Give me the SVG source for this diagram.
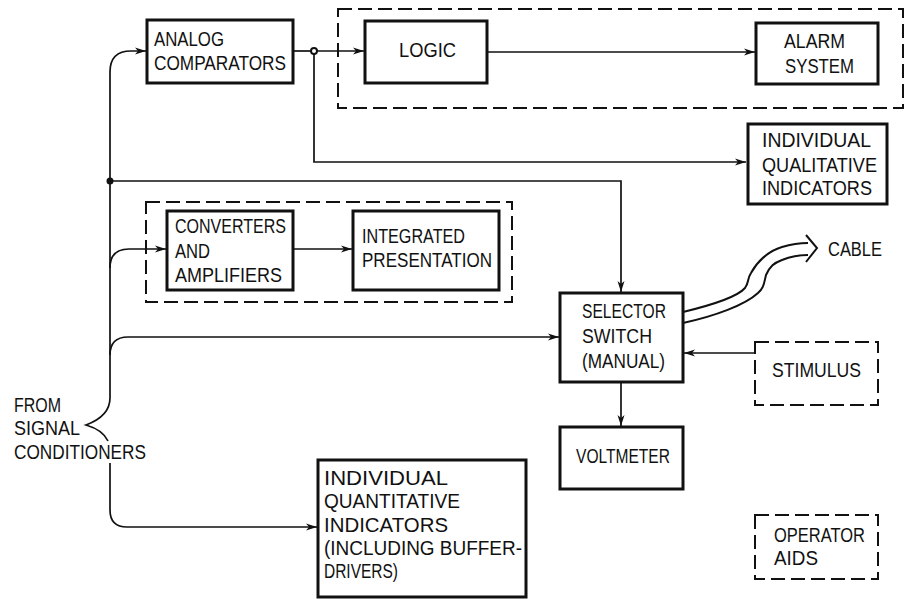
<svg xmlns="http://www.w3.org/2000/svg" width="907" height="599" viewBox="0 0 907 599">
<defs>
<style>
.box{fill:#fff;stroke:#111;stroke-width:3}
.dash{fill:none;stroke:#111;stroke-width:2;stroke-dasharray:14,6}
.ln{fill:none;stroke:#111;stroke-width:1.7}
text{font-family:"Liberation Sans",Arial,sans-serif;font-size:20px;fill:#111}
</style>
<marker id="ah" markerUnits="userSpaceOnUse" markerWidth="12" markerHeight="8" refX="11" refY="4" orient="auto">
<path d="M0,0.5 L11,4 L0,7.5 L3,4 Z" fill="#111"/>
</marker>
</defs>
<rect width="907" height="599" fill="#fff"/>

<g id="group-logic-alarm"><rect class="dash" x="338" y="9" width="565" height="99"/></g>
<g id="group-converters"><rect class="dash" x="146" y="202" width="366" height="100"/></g>

<g id="connectors">
<path class="ln" d="M110,398 V72 Q110,51 131,51 H146" marker-end="url(#ah)"/>
<path class="ln" d="M110,398 Q110,416 86,425 Q103,430 108,441"/>
<path class="ln" d="M110,463 V510 Q110,527 127,527 H317" marker-end="url(#ah)"/>
<circle cx="110" cy="181" r="3.5" fill="#111"/>
<path class="ln" d="M110,181 H621 V292" marker-end="url(#ah)"/>
<path class="ln" d="M110,268 Q110,249 129,249 H166" marker-end="url(#ah)"/>
<path class="ln" d="M110,355 Q110,337 128,337 H559" marker-end="url(#ah)"/>
<path class="ln" d="M293,51 H311"/>
<circle cx="314" cy="51" r="3" fill="#fff" stroke="#111" stroke-width="2"/>
<path class="ln" d="M317,51 H364" marker-end="url(#ah)"/>
<path class="ln" d="M314,54 V162 H746" marker-end="url(#ah)"/>
<path class="ln" d="M487,52 H755" marker-end="url(#ah)"/>
<path class="ln" d="M293,249 H352" marker-end="url(#ah)"/>
<path class="ln" d="M621,382 V426" marker-end="url(#ah)"/>
<path class="ln" d="M755,353 H684" marker-end="url(#ah)"/>
<g id="cable-arrow" fill="none" stroke="#111" stroke-width="2">
<path d="M683,312 C712,305 738,296 745,288 C749,283 747,279 751,273 C757,262 768,251 782,247 C792,244 800,243 808,243"/>
<path d="M683,323 C715,316 745,305 758,293 C764,288 764,283 766,275 C770,266 774,263 782,260 C792,256 800,255 808,255"/>
<path d="M806,235 L817,248 L806,262"/>
</g>
</g>

<g id="analog-comparators">
<rect class="box" x="147" y="20" width="146" height="63"/>
<text x="154" y="46" textLength="70" lengthAdjust="spacingAndGlyphs">ANALOG</text>
<text x="154" y="70" textLength="132" lengthAdjust="spacingAndGlyphs">COMPARATORS</text>
</g>
<g id="logic">
<rect class="box" x="365" y="21" width="122" height="62"/>
<text x="399" y="57" textLength="57" lengthAdjust="spacingAndGlyphs">LOGIC</text>
</g>
<g id="alarm-system">
<rect class="box" x="756" y="23" width="122" height="61"/>
<text x="784" y="48" textLength="61" lengthAdjust="spacingAndGlyphs">ALARM</text>
<text x="785" y="73" textLength="69" lengthAdjust="spacingAndGlyphs">SYSTEM</text>
</g>
<g id="qualitative-indicators">
<rect class="box" x="748" y="124" width="139" height="80"/>
<text x="762" y="147" textLength="109" lengthAdjust="spacingAndGlyphs">INDIVIDUAL</text>
<text x="762" y="172" textLength="115" lengthAdjust="spacingAndGlyphs">QUALITATIVE</text>
<text x="762" y="195" textLength="110" lengthAdjust="spacingAndGlyphs">INDICATORS</text>
</g>
<g id="converters-amplifiers">
<rect class="box" x="167" y="211" width="126" height="79"/>
<text x="175" y="233" textLength="111" lengthAdjust="spacingAndGlyphs">CONVERTERS</text>
<text x="175" y="258" textLength="35" lengthAdjust="spacingAndGlyphs">AND</text>
<text x="175" y="282" textLength="107" lengthAdjust="spacingAndGlyphs">AMPLIFIERS</text>
</g>
<g id="integrated-presentation">
<rect class="box" x="353" y="211" width="146" height="79"/>
<text x="362" y="243" textLength="103" lengthAdjust="spacingAndGlyphs">INTEGRATED</text>
<text x="362" y="267" textLength="130" lengthAdjust="spacingAndGlyphs">PRESENTATION</text>
</g>
<g id="selector-switch">
<rect class="box" x="560" y="293" width="123" height="89"/>
<text x="582" y="318" textLength="84" lengthAdjust="spacingAndGlyphs">SELECTOR</text>
<text x="582" y="343" textLength="70" lengthAdjust="spacingAndGlyphs">SWITCH</text>
<text x="582" y="368" textLength="83" lengthAdjust="spacingAndGlyphs">(MANUAL)</text>
</g>
<g id="cable">
<text x="828" y="256" textLength="54" lengthAdjust="spacingAndGlyphs">CABLE</text>
</g>
<g id="stimulus">
<rect class="dash" x="755" y="342" width="123" height="63" stroke-width="2.5"/>
<text x="772" y="377" textLength="89" lengthAdjust="spacingAndGlyphs">STIMULUS</text>
</g>
<g id="voltmeter">
<rect class="box" x="560" y="427" width="123" height="62"/>
<text x="576" y="463" textLength="94" lengthAdjust="spacingAndGlyphs">VOLTMETER</text>
</g>
<g id="operator-aids">
<rect class="dash" x="755" y="515" width="123" height="64" stroke-width="2.5"/>
<text x="774" y="542" textLength="91" lengthAdjust="spacingAndGlyphs">OPERATOR</text>
<text x="774" y="565" textLength="44" lengthAdjust="spacingAndGlyphs">AIDS</text>
</g>
<g id="quantitative-indicators">
<rect class="box" x="318" y="460" width="208" height="137"/>
<text x="324" y="485" textLength="124" lengthAdjust="spacingAndGlyphs">INDIVIDUAL</text>
<text x="324" y="508" textLength="136" lengthAdjust="spacingAndGlyphs">QUANTITATIVE</text>
<text x="324" y="532" textLength="124" lengthAdjust="spacingAndGlyphs">INDICATORS</text>
<text x="324" y="555" textLength="198" lengthAdjust="spacingAndGlyphs">(INCLUDING BUFFER-</text>
<text x="324" y="578" textLength="74" lengthAdjust="spacingAndGlyphs">DRIVERS)</text>
</g>
<g id="from-signal-conditioners">
<text x="14" y="412" textLength="47" lengthAdjust="spacingAndGlyphs">FROM</text>
<text x="14" y="435" textLength="66" lengthAdjust="spacingAndGlyphs">SIGNAL</text>
<text x="14" y="459" textLength="132" lengthAdjust="spacingAndGlyphs">CONDITIONERS</text>
</g>
</svg>
